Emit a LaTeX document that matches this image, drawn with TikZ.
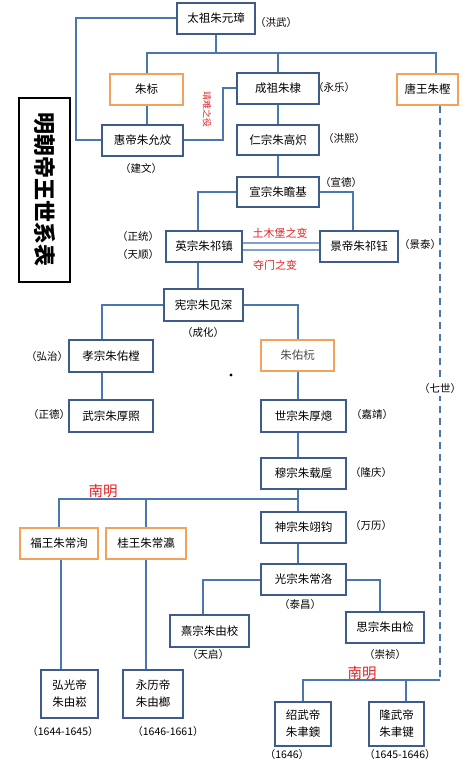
\documentclass[tikz,border=0pt]{standalone}
\usepackage{fontspec}
\setmainfont{Noto Sans CJK SC}
\begin{document}
\begin{tikzpicture}[x=1pt,y=-1pt,
  ln/.style={draw=lineblue,line width=2pt},
  dashln/.style={draw=lineblue,line width=2pt,dash pattern=on 7pt off 5pt},
  thinln/.style={draw=thinblue,line width=1.2pt},
  bx/.style={draw=boxblue,line width=2.6pt,fill=white,inner sep=0pt,font=\fontsize{11.5}{17}\selectfont,align=center},
  ob/.style={bx,draw=boxorange},
  lb/.style={inner sep=0pt,font=\fontsize{10.5}{12}\selectfont},
  rd/.style={inner sep=0pt,text=redtxt,font=\fontsize{11}{13}\selectfont},
]
\definecolor{lineblue}{HTML}{4A78AE}
\definecolor{thinblue}{HTML}{7FA3C8}
\definecolor{boxblue}{HTML}{3D5C8C}
\definecolor{boxorange}{HTML}{F3A25A}
\definecolor{redtxt}{HTML}{E02424}
\useasboundingbox[fill=white] (0,0) rectangle (461,759);
\newcommand{\mybox}[7]{\node[#7,minimum width={#4-#2},minimum height={#5-#3}] (#1) at ({(#2+#4)/2},{(#3+#5)/2}) {#6};}
% boxes
\mybox{tz}{177}{3}{255}{34}{太祖朱元璋}{bx}
\mybox{zb}{110}{74}{183}{105}{朱标}{ob}
\mybox{cz}{237}{73}{319}{104}{成祖朱棣}{bx}
\mybox{tw}{397}{74}{458}{105}{唐王朱樫}{ob}
\mybox{hd}{102}{125}{183}{156}{惠帝朱允炆}{bx}
\mybox{rz}{237}{125}{319}{155}{仁宗朱高炽}{bx}
\mybox{xz}{237}{177}{319}{207}{宣宗朱瞻基}{bx}
\mybox{yz}{166}{231}{242}{262}{英宗朱祁镇}{bx}
\mybox{jd}{320}{231}{398}{262}{景帝朱祁钰}{bx}
\mybox{xian}{164}{289}{243}{321}{宪宗朱见深}{bx}
\mybox{xiao}{69}{340}{153}{372}{孝宗朱佑樘}{bx}
\mybox{zyy}{261}{340}{334}{371}{\textcolor{black!70}{朱佑杬}}{ob}
\mybox{wz}{69}{400}{153}{432}{武宗朱厚照}{bx}
\mybox{sz}{261}{400}{346}{432}{世宗朱厚熜}{bx}
\mybox{mz}{261}{458}{346}{489}{穆宗朱载垕}{bx}
\mybox{shen}{261}{512}{346}{543}{神宗朱翊钧}{bx}
\mybox{fw}{20}{528}{98}{559}{福王朱常洵}{ob}
\mybox{gw}{106}{528}{186}{559}{桂王朱常瀛}{ob}
\mybox{gz}{261}{564}{346}{595}{光宗朱常洛}{bx}
\mybox{xiz}{170}{615}{249}{647}{熹宗朱由校}{bx}
\mybox{sizong}{346}{612}{424}{643}{思宗朱由检}{bx}
\mybox{hg}{41}{670}{98}{718}{弘光帝\\朱由崧}{bx}
\mybox{yl}{123}{670}{183}{718}{永历帝\\朱由榔}{bx}
\mybox{sw}{275}{702}{331}{746}{绍武帝\\朱聿鐭}{bx}
\mybox{lw}{369}{702}{424}{746}{隆武帝\\朱聿键}{bx}
% title
\node[draw=black,line width=2pt,minimum width=51,minimum height=184,inner sep=0pt] (title) at (44.5,190) {};
\node[rotate=-90,inner sep=0pt,font=\fontsize{22}{24}\bfseries\selectfont] (titletxt) at (title.center) {明朝帝王世系表};
% helper coordinates
\coordinate (b1) at (0,53);
\coordinate (lc) at (76,0);
\coordinate (jn) at (223,0);
\coordinate (col) at (298,0);
\coordinate (b2) at (0,499);
\coordinate (b3) at (0,680);
% connectors
\draw[ln] (tz.south) -- (tz.south |- b1);
\draw[ln] (zb.north) |- ([xshift=8.5pt]tw.north |- b1) -- ([xshift=8.5pt]tw.north);
\draw[ln] (cz.north) -- (cz.north |- b1);
\draw[ln] (tz.west) -| (lc |- hd.west) -- (hd.west);
\draw[ln] (zb.south) -- (zb.south |- hd.north);
\draw[ln] (cz.west) -| (jn |- hd.east) -- (hd.east);
\draw[ln] (cz.south) -- (cz.south |- rz.north);
\draw[ln] (rz.south) -- (rz.south |- xz.north);
\draw[ln] (xz.west) -| ([xshift=-6pt]yz.north);
\draw[ln] (xz.east) -| ([xshift=-6pt]jd.north);
\draw[thinln] ([yshift=3.5pt]yz.east) -- ([yshift=3.5pt]jd.west);
\draw[thinln] ([yshift=-3.5pt]yz.east) -- ([yshift=-3.5pt]jd.west);
\draw[ln] ([xshift=-6pt]yz.south) -- ([xshift=-6pt]yz.south |- xian.north);
\draw[ln] (xian.west) -| ([xshift=-9pt]xiao.north);
\draw[ln] (xian.east) -| (zyy.north);
\draw[ln] ([xshift=-9pt]xiao.south) -- ([xshift=-9pt]xiao.south |- wz.north);
\draw[ln] (col |- zyy.south) -- (col |- sz.north);
\draw[ln] (col |- sz.south) -- (col |- mz.north);
\draw[ln] (col |- mz.south) -- (col |- shen.north);
\draw[ln] (fw.north) |- (col |- b2);
\draw[ln] (gw.north) -- (gw.north |- b2);
\draw[ln] (col |- shen.south) -- (col |- gz.north);
\draw[ln] (gz.west) -| ([xshift=-7pt]xiz.north);
\draw[ln] (gz.east) -| ([xshift=-5pt]sizong.north);
\draw[ln] ([xshift=2pt]fw.south) -- ([xshift=2pt]fw.south |- hg.north);
\draw[ln] (gw.south) -- (gw.south |- yl.north);
\draw[dashln] ([xshift=12pt]tw.south) -- ([xshift=12pt]tw.south |- b3);
\draw[ln] (sw.north) |- ([xshift=12pt]tw.south |- b3);
\draw[ln] ([xshift=9.5pt]lw.north) -- ([xshift=9.5pt]lw.north |- b3);
% labels
\node[lb] (l1) at (276,23) {（洪武）};
\node[lb] (l2) at (334,88) {（永乐）};
\node[lb] (l3) at (141,169) {（建文）};
\node[lb] (l4) at (344,139) {（洪熙）};
\node[lb] (l5) at (341,183) {（宣德）};
\node[lb] (l6) at (138,237) {（正统）};
\node[lb] (l7) at (138,255) {（天顺）};
\node[lb] (l8) at (420,245) {（景泰）};
\node[lb] (l9) at (203,333) {（成化）};
\node[lb] (l10) at (47,357) {（弘治）};
\node[lb] (l11) at (49,415) {（正德）};
\node[lb] (l12) at (372,415) {（嘉靖）};
\node[lb] (l13) at (371,473) {（隆庆）};
\node[lb] (l14) at (371,526) {（万历）};
\node[lb] (l15) at (300,605) {（泰昌）};
\node[lb] (l16) at (208,655) {（天启）};
\node[lb] (l17) at (385,655) {（崇祯）};
\node[lb,fill=white,inner ysep=2pt] (l18) at (440,389) {（七世）};
\node[lb] (l19) at (63,731) {（1644-1645）};
\node[lb] (l20) at (168,731) {（1646-1661）};
\node[lb] (l21) at (287,754) {（1646）};
\node[lb] (l22) at (400,754) {（1645-1646）};
% red labels
\node[rd,rotate=-90,font=\fontsize{9}{10}\selectfont] (r1) at (207,110) {靖难之役};
\node[rd] (r2) at (280,233) {土木堡之变};
\node[rd] (r3) at (275,265) {夺门之变};
\node[rd,font=\fontsize{14.5}{16}\selectfont] (r4) at (103,491) {南明};
\node[rd,font=\fontsize{14.5}{16}\selectfont] (r5) at (362,673) {南明};
% dot
\fill (231,375) circle (1.6);
\end{tikzpicture}
\end{document}
